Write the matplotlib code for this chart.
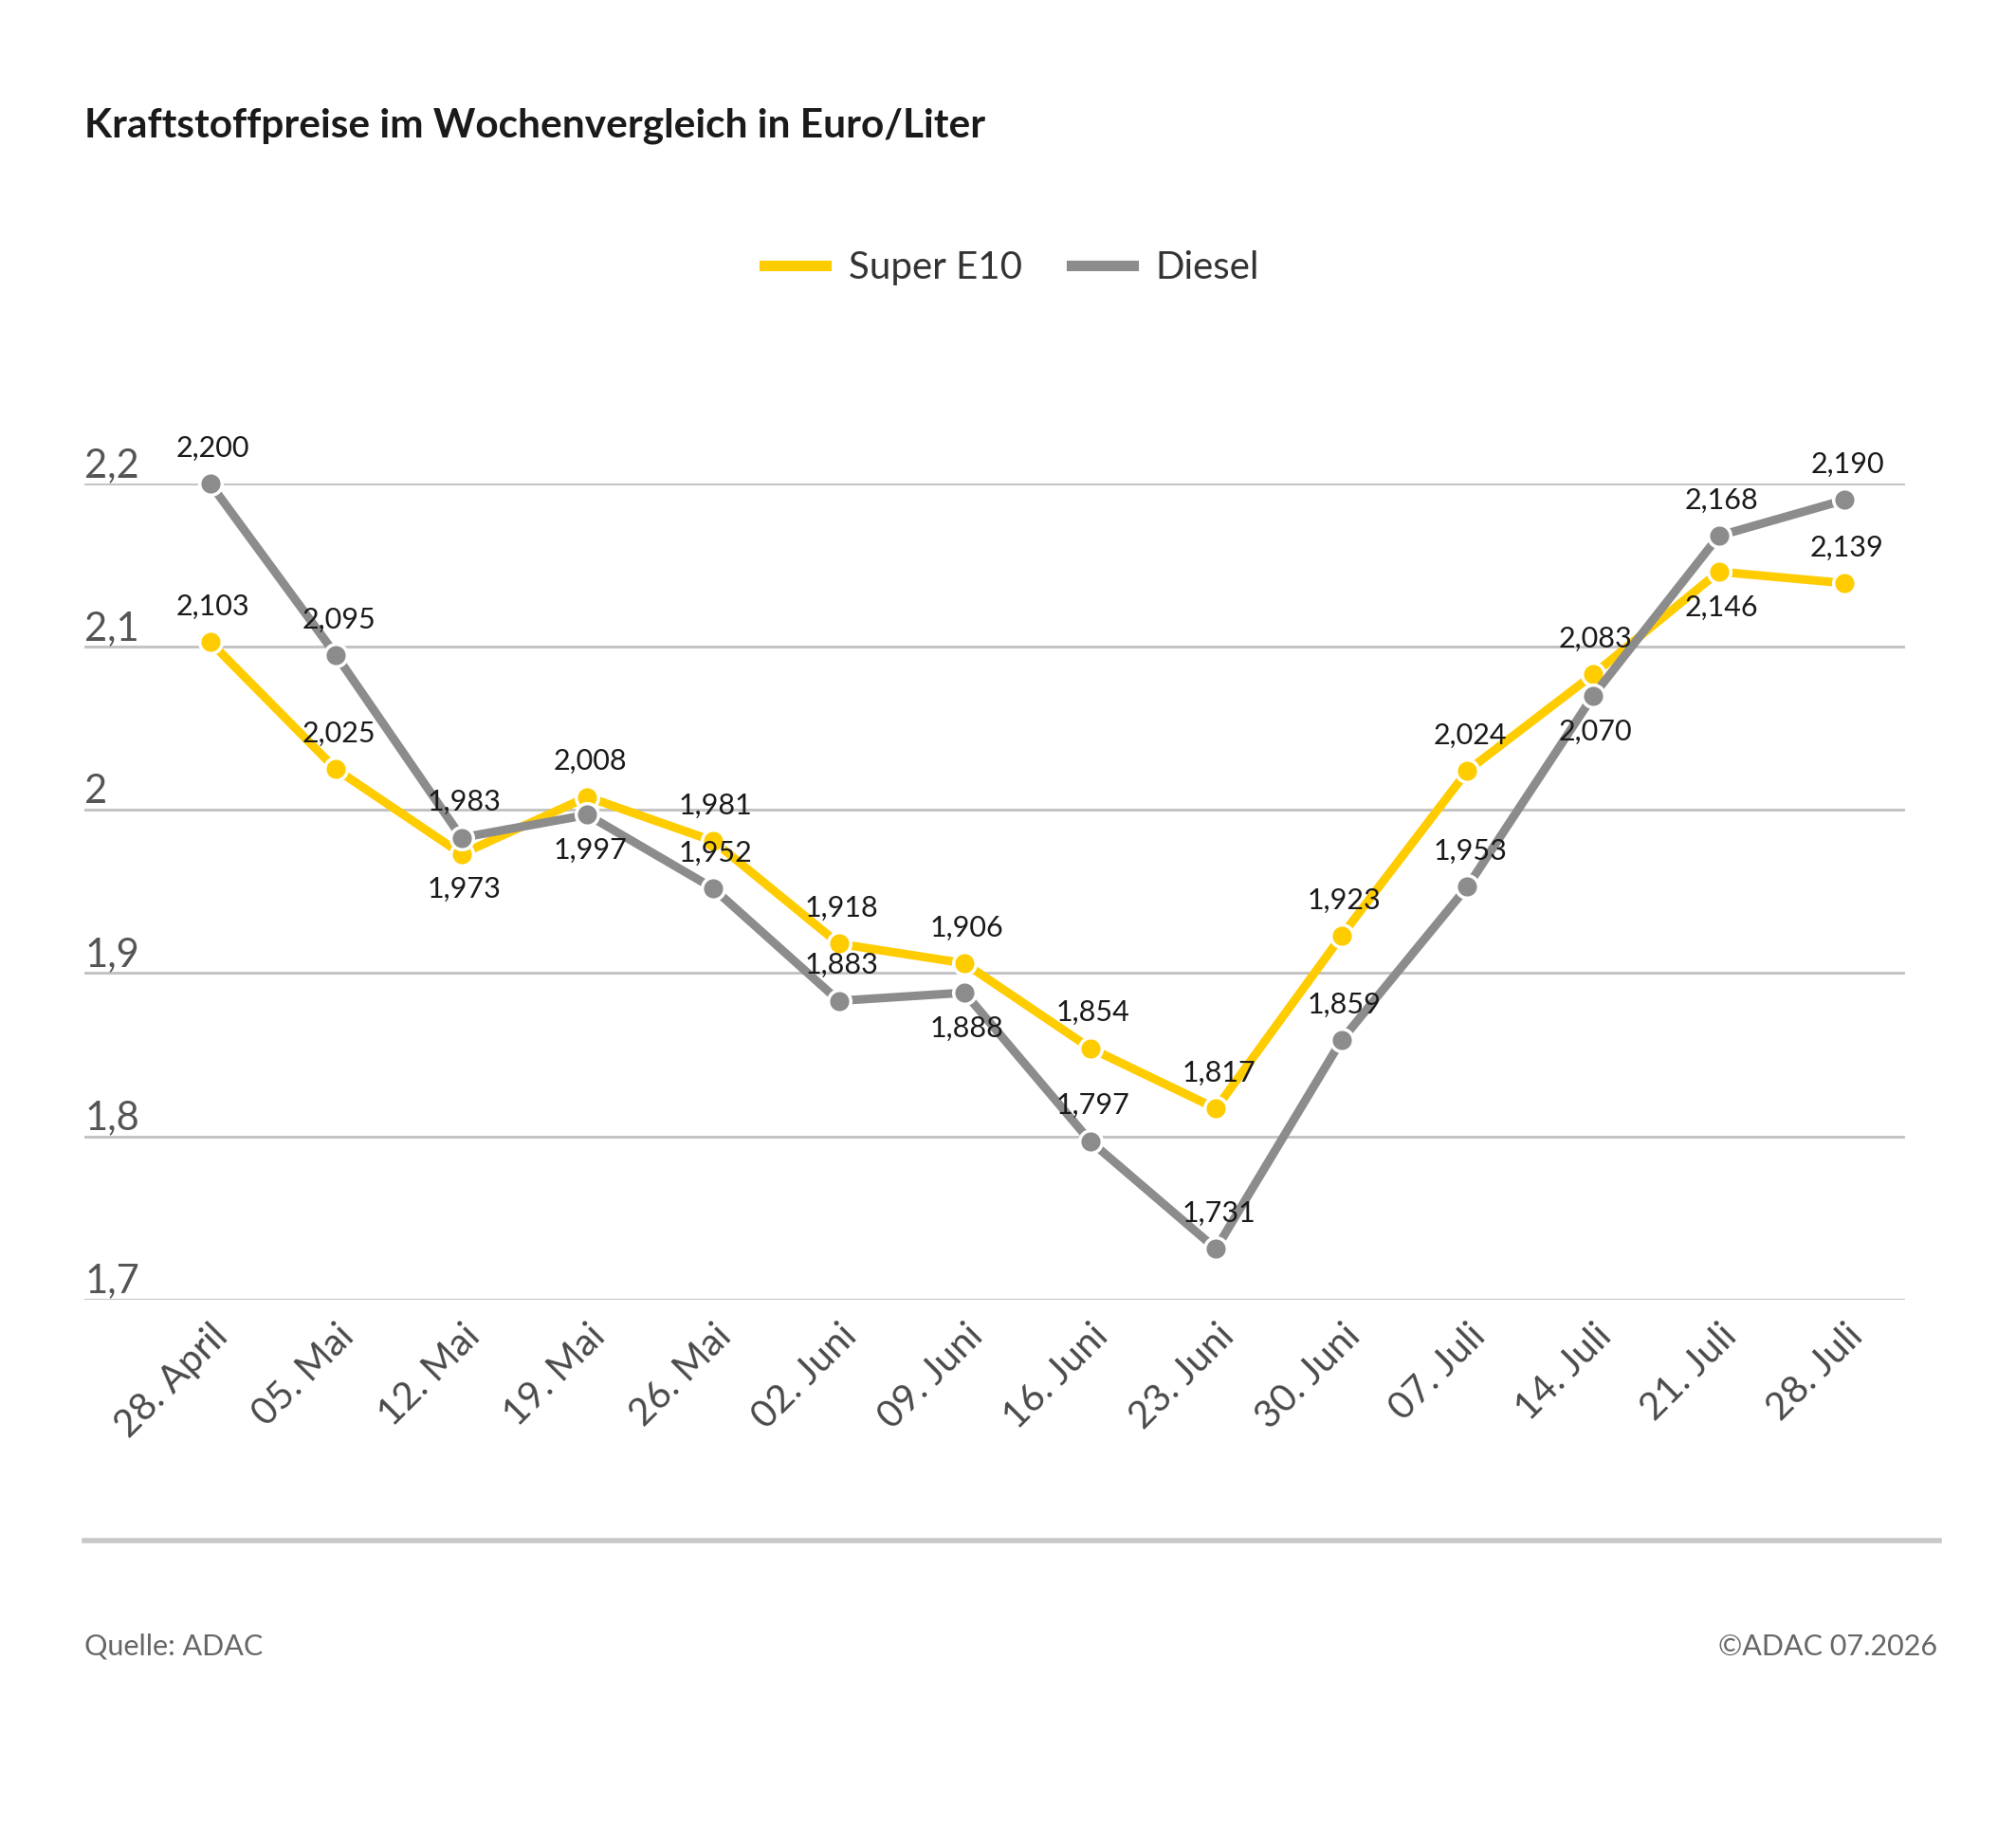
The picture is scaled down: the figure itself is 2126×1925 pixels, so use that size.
import matplotlib.pyplot as plt
from matplotlib.lines import Line2D
from matplotlib.transforms import blended_transform_factory

plt.rcParams['font.family'] = ['Lato', 'DejaVu Sans']

weeks = ['28. April', '05. Mai', '12. Mai', '19. Mai', '26. Mai', '02. Juni',
         '09. Juni', '16. Juni', '23. Juni', '30. Juni', '07. Juli', '14. Juli',
         '21. Juli', '28. Juli']
super_e10 = [2.103, 2.025, 1.973, 2.008, 1.981, 1.918, 1.906, 1.854, 1.817,
             1.923, 2.024, 2.083, 2.146, 2.139]
diesel = [2.200, 2.095, 1.983, 1.997, 1.952, 1.883, 1.888, 1.797, 1.731,
          1.859, 1.953, 2.070, 2.168, 2.190]
# +1 label above the point, -1 below
super_pos = [1, 1, -1, 1, 1, 1, 1, 1, 1, 1, 1, 1, -1, 1]
diesel_pos = [1, 1, 1, -1, 1, 1, -1, 1, 1, 1, 1, -1, 1, 1]
yticks = [1.7, 1.8, 1.9, 2.0, 2.1, 2.2]

yellow = '#FFCC00'
grey = '#8C8C8C'


def fmt(v, dec):
    s = f'{v:.{dec}f}'.replace('.', ',')
    return s


fig = plt.figure(figsize=(21.26, 19.25), dpi=100)
ax = fig.add_axes([0.0419, 0.288, 0.903, 0.447])

x = list(range(len(weeks)))
for vals, pos, col, name in [(super_e10, super_pos, yellow, 'Super E10'),
                             (diesel, diesel_pos, grey, 'Diesel')]:
    ax.plot(x, vals, color=col, lw=6.5, marker='o', ms=17, mfc=col,
            mec='white', mew=2.5, clip_on=False, zorder=3, solid_joinstyle='round')
    for xi, v, p in zip(x, vals, pos):
        ax.annotate(fmt(v, 3), (xi, v), xytext=(2, 27 * p), textcoords='offset points',
                    ha='center', va='center', fontsize=22, color='#1a1a1a', zorder=5)

ax.set_xlim(-1.0, 13.48)
ax.set_ylim(1.7, 2.2)
for t in yticks:
    ax.axhline(t, color='#c4c4c4', lw=2.2, zorder=1)

trans = blended_transform_factory(ax.transAxes, ax.transData)
for t in yticks:
    lab = fmt(t, 1).rstrip('0').rstrip(',')
    ax.text(0.0, t, lab, transform=trans, ha='left', va='bottom', fontsize=30,
            color='#555555')

ax.set_yticks([])
ax.set_xticks(x)
ax.set_xticklabels(weeks, rotation=45, ha='right', va='top', rotation_mode='anchor',
                   fontsize=29, color='#4a4a4a')
ax.tick_params(axis='x', length=0, pad=14)
for s in ax.spines.values():
    s.set_visible(False)

fig.text(0.0419, 0.931, 'Kraftstoffpreise im Wochenvergleich in Euro/Liter',
         fontsize=30.5, fontweight='bold', color='#1a1a1a', va='center', ha='left')

handles = [Line2D([], [], color=yellow, lw=8), Line2D([], [], color=grey, lw=8)]
fig.legend(handles, ['Super E10', 'Diesel'], loc='center', bbox_to_anchor=(0.502, 0.853),
           ncol=2, frameon=False, fontsize=29, handlelength=1.6, handletextpad=0.6,
           columnspacing=1.3, labelcolor='#333333')

fig.add_artist(Line2D([0.0419, 0.962], [0.156, 0.156], color='#c8c8c8', lw=4,
                      transform=fig.transFigure))
fig.text(0.0419, 0.098, 'Quelle: ADAC', fontsize=22, color='#666666', va='center', ha='left')
fig.text(0.961, 0.098, '©ADAC 07.2026', fontsize=22, color='#666666', va='center', ha='right')

fig.savefig('out.png', dpi=100, facecolor='white')
